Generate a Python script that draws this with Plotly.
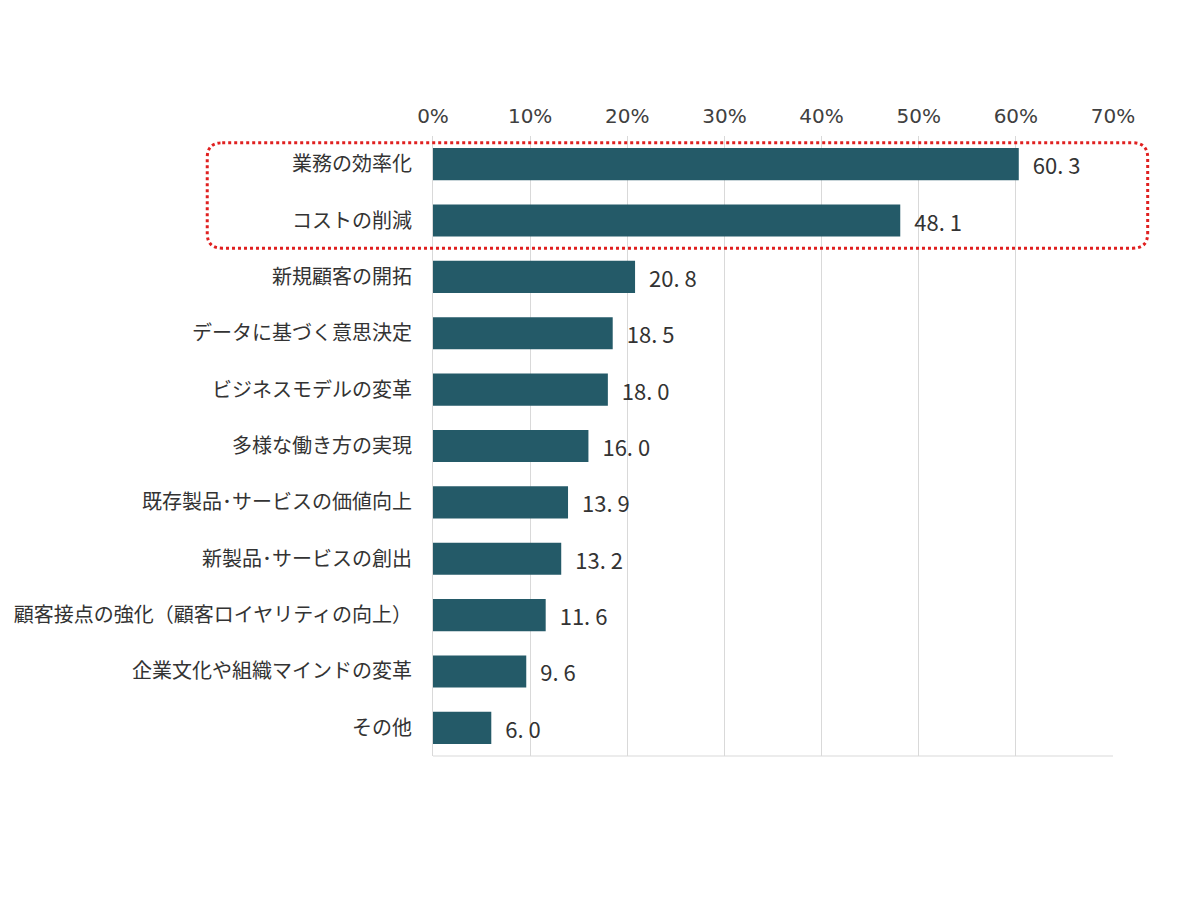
import plotly.graph_objects as go

categories = [
    "業務の効率化",
    "コストの削減",
    "新規顧客の開拓",
    "データに基づく意思決定",
    "ビジネスモデルの変革",
    "多様な働き方の実現",
    "既存製品･サービスの価値向上",
    "新製品･サービスの創出",
    "顧客接点の強化（顧客ロイヤリティの向上）",
    "企業文化や組織マインドの変革",
    "その他",
]
values = [60.3, 48.1, 20.8, 18.5, 18.0, 16.0, 13.9, 13.2, 11.6, 9.6, 6.0]
tick_vals = [0, 10, 20, 30, 40, 50, 60, 70]
tick_text = [f"{t}%" for t in tick_vals]

BAR = "#245a68"
FONT = "Noto Sans CJK JP"


def label(v):
    # leading gap + spaced decimal point like the original
    s = f"{v:.1f}".replace(".", ". ")
    return "\u2002" + s


fig = go.Figure()
fig.add_trace(go.Bar(
    x=values, y=categories, orientation="h",
    marker=dict(color=BAR, line=dict(width=0)),
    text=[label(v) for v in values],
    textposition="outside",
    textfont=dict(family=FONT, size=22, color="#333333"),
    cliponaxis=False,
))

# rounded dotted box round the two top items
rx, ry = 0.022, 0.024
x0, x1, y0, y1 = -0.332, 1.051, 0.819, 0.989
path = (f"M {x0+rx},{y1} L {x1-rx},{y1} Q {x1},{y1} {x1},{y1-ry} "
        f"L {x1},{y0+ry} Q {x1},{y0} {x1-rx},{y0} "
        f"L {x0+rx},{y0} Q {x0},{y0} {x0},{y0+ry} "
        f"L {x0},{y1-ry} Q {x0},{y1} {x0+rx},{y1} Z")
fig.add_shape(type="path", path=path, xref="paper", yref="paper",
              line=dict(color="#e02020", width=3, dash="dot"))

fig.update_layout(
    width=1200, height=898,
    margin=dict(l=425, r=95, t=128, b=150),
    plot_bgcolor="white", paper_bgcolor="white",
    bargap=0.43, showlegend=False,
    font=dict(family=FONT, color="#333333"),
)
fig.update_xaxes(
    range=[0, 70], side="top", tickvals=tick_vals, ticktext=tick_text,
    tickfont=dict(family="DejaVu Sans", size=20, color="#404040"),
    showgrid=True, gridcolor="#d9d9d9", gridwidth=1,
    zeroline=False, showline=False, ticks="", ticklabelstandoff=8,
    automargin=False,
)
fig.update_yaxes(
    autorange="reversed", tickfont=dict(family=FONT, size=20, color="#333333"),
    showline=True, linecolor="#d9d9d9", ticks="", ticklabelstandoff=16,
    automargin=False,
)
# bottom axis line
fig.add_shape(type="line", xref="paper", yref="paper", x0=0, x1=1, y0=0, y1=0,
              line=dict(color="#d9d9d9", width=1))

fig.write_html("out.html")
